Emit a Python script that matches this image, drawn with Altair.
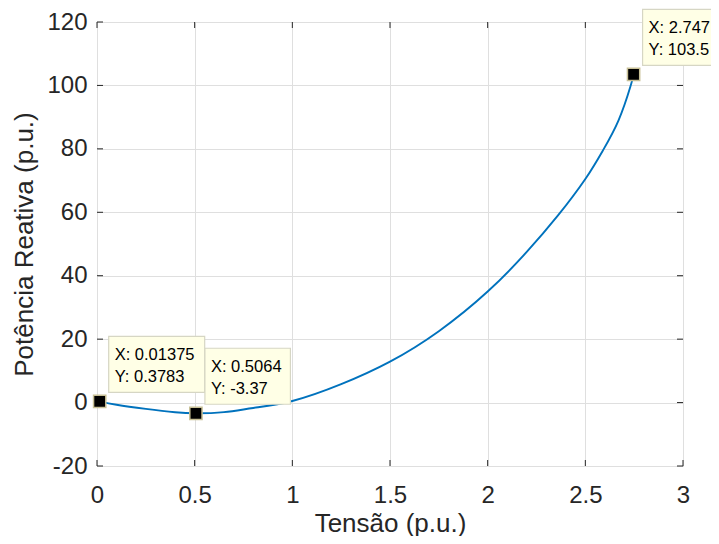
import altair as alt
import pandas as pd

# Curve
tensao = [0.01375, 0.1, 0.25, 0.4, 0.5064, 0.65, 0.8, 1.0, 1.25, 1.5, 1.75,
          2.0, 2.2, 2.36, 2.5, 2.59, 2.67, 2.73, 2.747]
potencia = [0.3783, -0.7, -2.0, -3.05, -3.37, -3.0, -1.7, 0.5, 5.8, 12.9, 22.5,
            35.0, 47.5, 59.0, 70.5, 79.5, 89.0, 99.5, 103.5]

# Data tips
tip_x = [0.01375, 0.5064, 2.747]
tip_y = [0.3783, -3.37, 103.5]
tip_xlabel = ["X: 0.01375", "X: 0.5064", "X: 2.747"]
tip_ylabel = ["Y: 0.3783", "Y: -3.37", "Y: 103.5"]

x_ticks = [0, 0.5, 1, 1.5, 2, 2.5, 3]
y_ticks = [-20, 0, 20, 40, 60, 80, 100, 120]

W, H = 586, 444
FONT = "Liberation Sans"
TXT = "#262626"

curve = pd.DataFrame({"V": tensao, "Q": potencia})
tips = pd.DataFrame({"V": tip_x, "Q": tip_y, "lx": tip_xlabel, "ly": tip_ylabel})
xt = pd.DataFrame({"V": x_ticks})
yt = pd.DataFrame({"Q": y_ticks})

xscale = alt.Scale(domain=[0, 3], nice=False, zero=False)
yscale = alt.Scale(domain=[-20, 120], nice=False, zero=False)

xaxis = alt.Axis(values=x_ticks, labelExpr="'' + datum.value", title="Tensão (p.u.)",
                 grid=True, gridColor="#DFDFDF", domain=False, ticks=False, tickSize=0,
                 labelFont=FONT, labelFontSize=24, labelColor=TXT, labelPadding=17,
                 titleFont=FONT, titleFontSize=26, titleFontWeight="normal",
                 titleColor=TXT, titlePadding=3, labelFlush=False)
yaxis = alt.Axis(values=y_ticks, labelExpr="'' + datum.value",
                 title="Potência Reativa (p.u.)",
                 grid=True, gridColor="#DFDFDF", domain=False, ticks=False, tickSize=0,
                 labelFont=FONT, labelFontSize=24, labelColor=TXT, labelPadding=10,
                 titleFont=FONT, titleFontSize=26, titleFontWeight="normal",
                 titleColor=TXT, titlePadding=9, labelFlush=False)

line = alt.Chart(curve).mark_line(color="#0072BD", strokeWidth=1.9, interpolate="natural").encode(
    x=alt.X("V:Q", scale=xscale, axis=xaxis),
    y=alt.Y("Q:Q", scale=yscale, axis=yaxis),
)

tick_len = 6
tl = alt.Chart(yt).mark_rule(color=TXT, strokeWidth=1).encode(
    y=alt.Y("Q:Q", scale=yscale), x=alt.value(0), x2=alt.value(tick_len))
tr = alt.Chart(yt).mark_rule(color=TXT, strokeWidth=1).encode(
    y=alt.Y("Q:Q", scale=yscale), x=alt.value(W - tick_len), x2=alt.value(W))
tb = alt.Chart(xt).mark_rule(color=TXT, strokeWidth=1).encode(
    x=alt.X("V:Q", scale=xscale), y=alt.value(H), y2=alt.value(H - tick_len))
tt = alt.Chart(xt).mark_rule(color=TXT, strokeWidth=1).encode(
    x=alt.X("V:Q", scale=xscale), y=alt.value(0), y2=alt.value(tick_len))

layers = [line, tl, tr, tb, tt]

for i in range(len(tip_x)):
    d = tips.iloc[[i]]
    n = max(len(tip_xlabel[i]), len(tip_ylabel[i]))
    bw = 10.5 * n - 9
    box = alt.Chart(d).mark_rect(
        fill="#FFFFE6", stroke="#D6D6C4", strokeWidth=1.2,
        xOffset=9, x2Offset=9 + bw, yOffset=-65, y2Offset=-9,
    ).encode(
        x=alt.X("V:Q", scale=xscale), x2="V:Q",
        y=alt.Y("Q:Q", scale=yscale), y2="Q:Q",
    )
    t1 = alt.Chart(d).mark_text(
        font=FONT, fontSize=16.5, color="black", align="left", baseline="alphabetic",
        dx=15, dy=-41,
    ).encode(x=alt.X("V:Q", scale=xscale), y=alt.Y("Q:Q", scale=yscale), text="lx:N")
    t2 = alt.Chart(d).mark_text(
        font=FONT, fontSize=16.5, color="black", align="left", baseline="alphabetic",
        dx=15, dy=-19,
    ).encode(x=alt.X("V:Q", scale=xscale), y=alt.Y("Q:Q", scale=yscale), text="ly:N")
    layers += [box, t1, t2]

markers = alt.Chart(tips).mark_square(
    size=150, color="black", fill="black", opacity=1, stroke="#C8C096", strokeWidth=1.5,
).encode(x=alt.X("V:Q", scale=xscale), y=alt.Y("Q:Q", scale=yscale))
layers.append(markers)

chart = alt.layer(*layers).properties(
    width=W, height=H,
    autosize=alt.AutoSizeParams(type="none"),
    padding={"left": 89, "top": 14, "right": 28, "bottom": 70},
).configure_view(stroke=TXT, strokeWidth=1).configure(background="white")

chart.save("out.html", embed_options={"renderer": "svg", "actions": False})
